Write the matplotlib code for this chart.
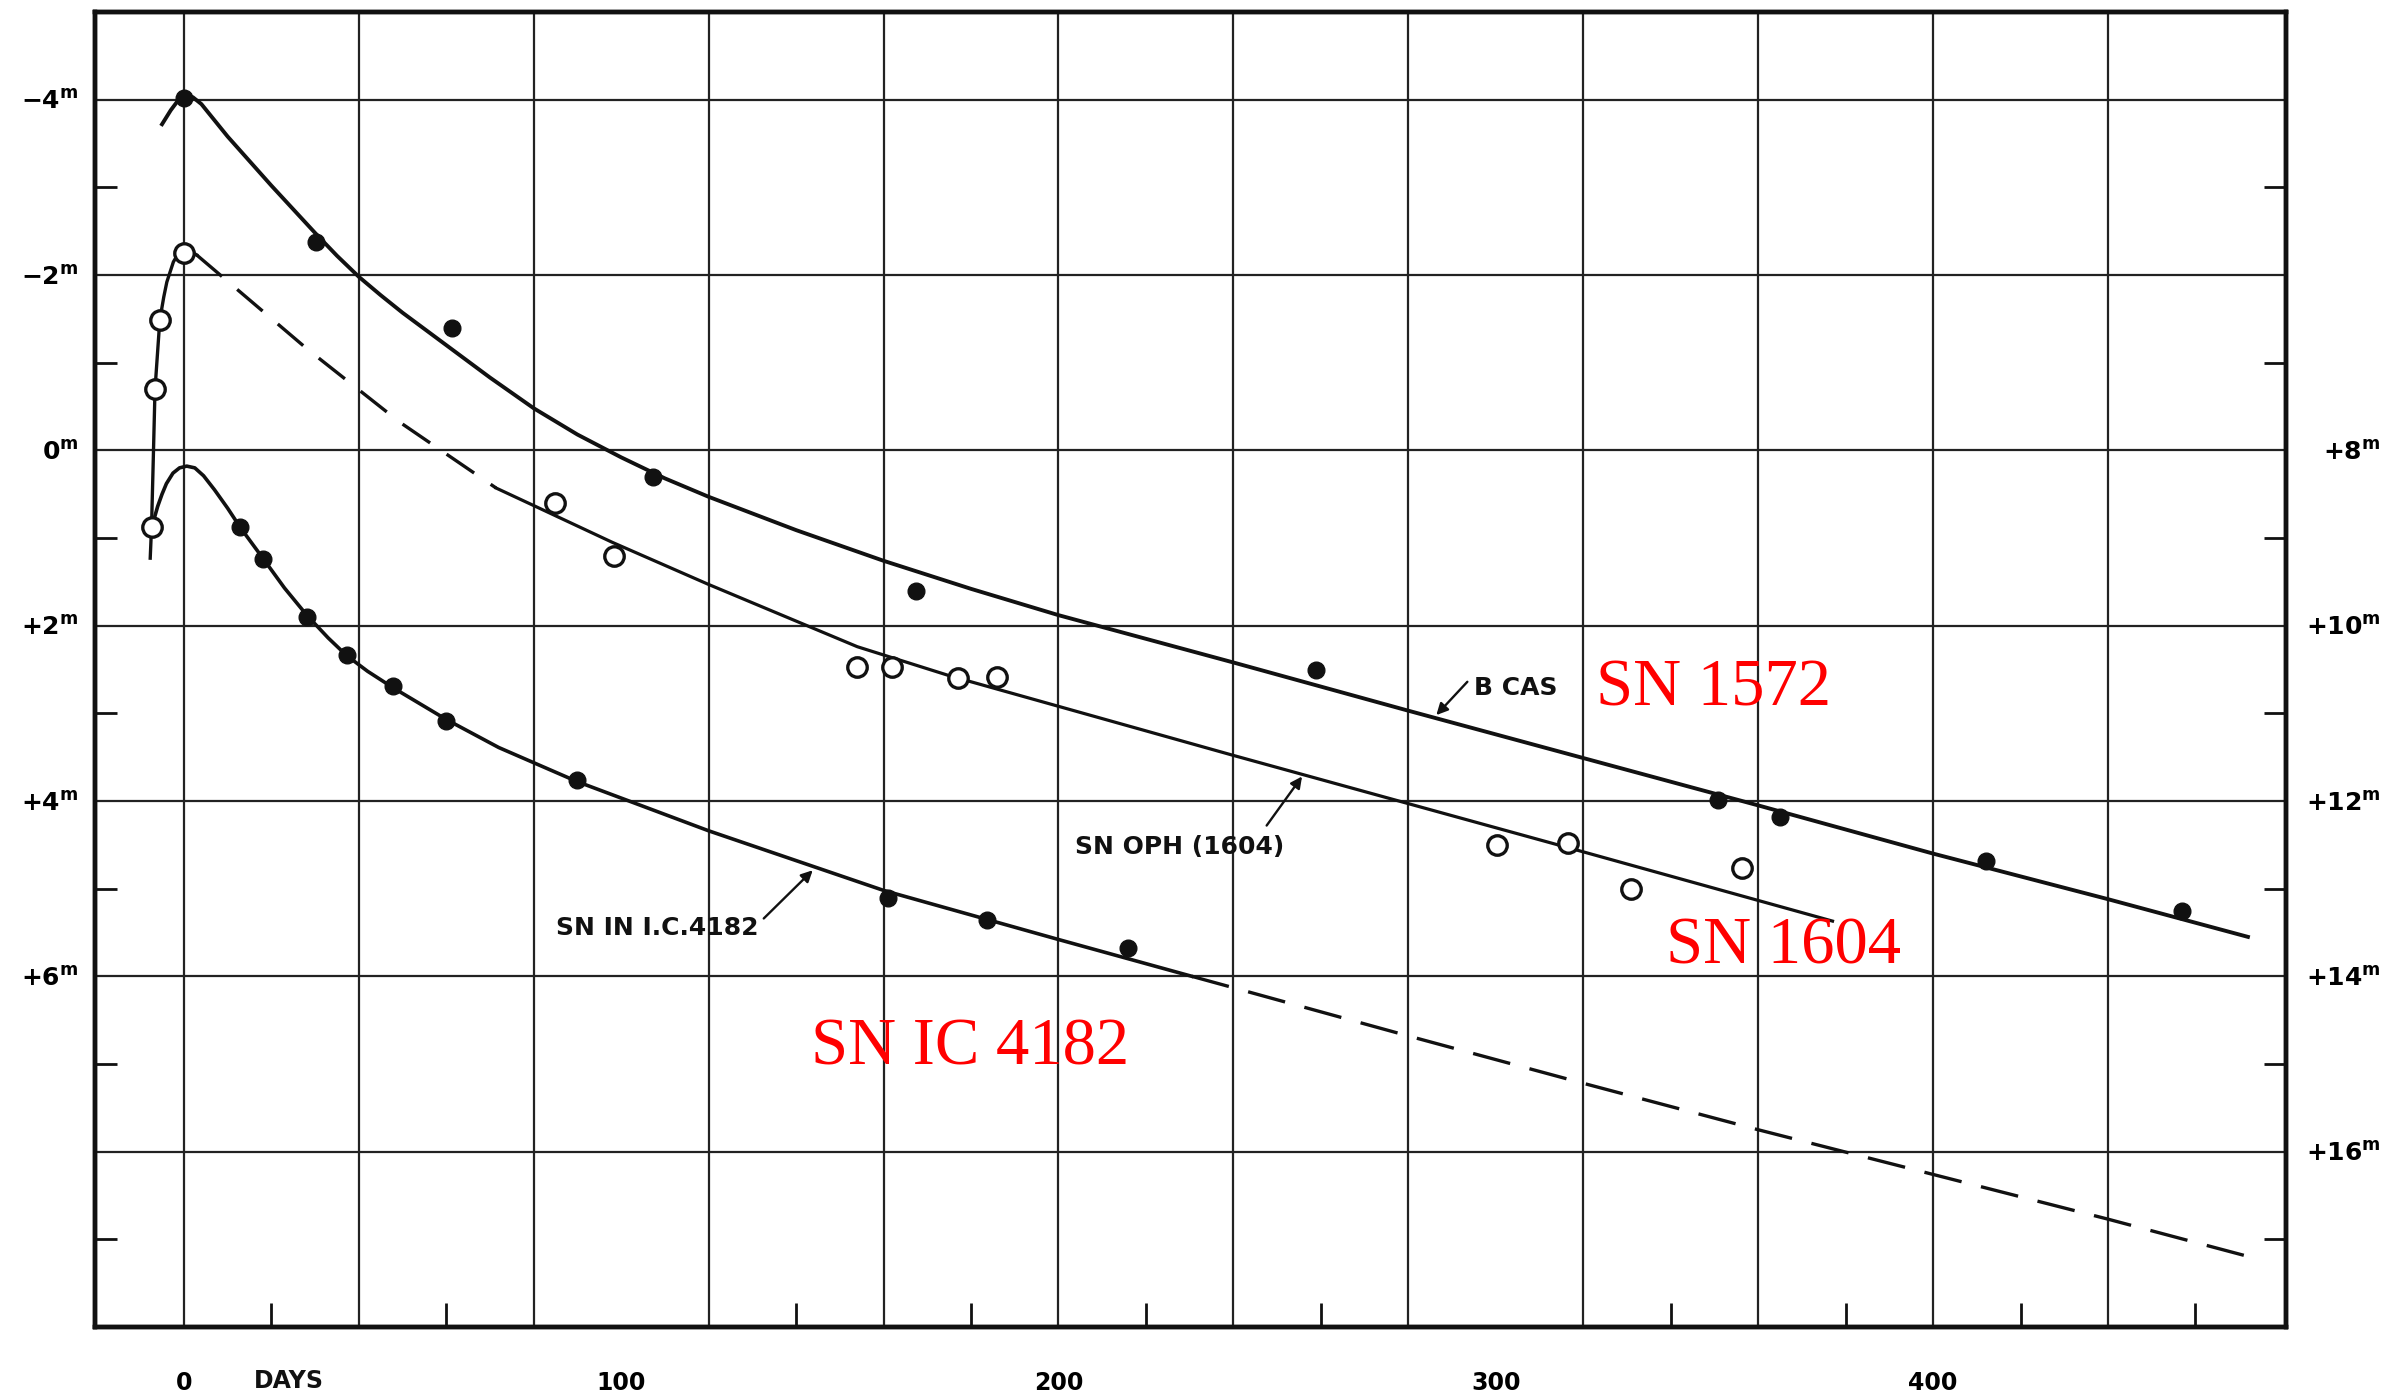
import numpy as np
import matplotlib
matplotlib.use("Agg")
import matplotlib.pyplot as plt

plt.rcParams["font.family"] = "DejaVu Sans"
plt.rcParams["font.weight"] = "bold"
plt.rcParams["mathtext.fontset"] = "dejavusans"
plt.rcParams["mathtext.default"] = "bf"

# --- SN 1572 (B Cas): observations (filled dots) and drawn light curve
b_cas_days = [0, 30.1, 61.3, 107.2, 167.4, 258.8, 350.8, 365, 412, 457]
b_cas_mag = [-4.02, -2.38, -1.39, 0.30, 1.60, 2.51, 3.99, 4.18, 4.68, 5.26]
b_cas_curve_days = [-5, -3, -1.5, 0, 2, 4, 10, 20, 30, 35, 40, 45, 50, 60, 70, 80,
                    90, 100, 110, 120, 140, 160, 180, 200, 240, 280, 320, 360,
                    400, 440, 472]
b_cas_curve_mag = [-3.72, -3.88, -3.98, -4.03, -4.03, -3.95, -3.58, -3.02, -2.48,
                   -2.22, -1.98, -1.77, -1.57, -1.2, -0.83, -0.48, -0.18, 0.08,
                   0.32, 0.53, 0.91, 1.26, 1.58, 1.88, 2.42, 2.97, 3.51, 4.05,
                   4.6, 5.12, 5.55]

# --- SN Oph (1604): observations (open circles) and drawn light curve
oph_days = [-7.4, -6.6, -5.5, 0, 84.9, 98.3, 154, 162, 177, 186,
            300.3, 316.5, 331, 356.4]
oph_mag = [0.88, -0.70, -1.49, -2.25, 0.60, 1.21, 2.47, 2.47, 2.60, 2.59,
           4.50, 4.48, 5.0, 4.77]
oph_rise_days = [-7.7, -7.4, -7.0, -6.6, -5.5, -4.6, -3.9, -2.4, -1.2, -0.3, 1.2, 2.9]
oph_rise_mag = [1.23, 0.88, 0.1, -0.70, -1.49, -1.75, -1.92, -2.15, -2.25, -2.29,
                -2.28, -2.23]
oph_dash_days = [2.9, 28.1, 49.4, 71.4]
oph_dash_mag = [-2.23, -1.16, -0.32, 0.43]
oph_tail_days = [71.4, 80, 98, 120, 154, 175, 200, 240, 280, 320, 377]
oph_tail_mag = [0.43, 0.63, 1.05, 1.53, 2.24, 2.57, 2.92, 3.48, 4.03, 4.58, 5.37]

# --- SN in I.C. 4182: observations (filled dots) and drawn light curve
ic_days = [12.9, 18.2, 28.1, 37.2, 47.9, 60, 90, 161, 183.6, 216]
ic_mag = [0.88, 1.24, 1.90, 2.33, 2.69, 3.09, 3.76, 5.11, 5.36, 5.68]
ic_curve_days = [-7.3, -6.8, -6.0, -5.0, -4.0, -2.5, -1.0, 0.65, 2.5, 4.5, 7.0,
                 10, 12.9, 18.2, 23, 28.1, 33, 37.2, 42, 47.9, 60, 72, 90, 120,
                 160, 200, 230.5]
ic_curve_mag = [0.9, 0.78, 0.64, 0.5, 0.38, 0.26, 0.2, 0.18, 0.2, 0.29, 0.45,
                0.66, 0.88, 1.24, 1.57, 1.88, 2.14, 2.34, 2.52, 2.71, 3.07,
                3.39, 3.78, 4.34, 5.02, 5.58, 6.0]
ic_dash_days = [230.5, 240, 280, 320, 360, 400, 440, 475.4]
ic_dash_mag = [6.0, 6.13, 6.68, 7.22, 7.75, 8.26, 8.77, 9.24]

# --- axes furniture
grid_days = list(range(0, 441, 40))
minor_days = list(range(20, 461, 40))
grid_mags = [-4, -2, 0, 2, 4, 6, 8]
left_tick_mags = [-4, -2, 0, 2, 4, 6]
left_tick_text = ["-4", "-2", "0", "+2", "+4", "+6"]
right_tick_mags = [8, 10, 12, 14, 16]
right_tick_text = ["+8", "+10", "+12", "+14", "+16"]
day_ticks = [0, 100, 200, 300, 400]

ink = "#111111"
fig = plt.figure(figsize=(24.02, 13.98), dpi=100)
ax = fig.add_axes([0.0396, 0.0508, 0.9121, 0.9406])

for d in grid_days:
    ax.axvline(d, color="#222222", lw=1.6, zorder=1)
for m in grid_mags:
    ax.axhline(m, color="#222222", lw=1.6, zorder=1)

# light curves
ax.plot(b_cas_curve_days, b_cas_curve_mag, color=ink, lw=2.8, zorder=3)
ax.plot(oph_rise_days, oph_rise_mag, color=ink, lw=2.4, zorder=3)
ax.plot(oph_dash_days, oph_dash_mag, color=ink, lw=2.4, dashes=(10, 6), zorder=3)
ax.plot(oph_tail_days, oph_tail_mag, color=ink, lw=2.3, zorder=3)
ax.plot(ic_curve_days, ic_curve_mag, color=ink, lw=2.6, zorder=3)
ax.plot(ic_dash_days, ic_dash_mag, color=ink, lw=2.4, dashes=(11.5, 6), zorder=3)

# observations
ax.plot(b_cas_days, b_cas_mag, "o", color=ink, ms=12, zorder=4)
ax.plot(ic_days, ic_mag, "o", color=ink, ms=12, zorder=4)
ax.plot(oph_days, oph_mag, "o", mfc="white", mec=ink, mew=2.4, ms=14, zorder=4)

# black labels with arrows
lab = dict(fontsize=18, fontweight="bold", color=ink, ha="center", va="center")
arr = dict(arrowstyle="-|>", lw=1.7, color=ink, mutation_scale=17, shrinkA=0, shrinkB=0)
ax.text(304.5, 2.71, "B CAS", **lab)
ax.annotate("", xy=(286.4, 3.02), xytext=(293.5, 2.64), arrowprops=arr)
ax.text(227.7, 4.52, "SN OPH (1604)", **lab)
ax.annotate("", xy=(255.7, 3.72), xytext=(247.6, 4.28), arrowprops=arr)
ax.text(108.2, 5.45, "SN IN I.C.4182", **lab)
ax.annotate("", xy=(143.8, 4.79), xytext=(132.6, 5.34), arrowprops=arr)

# red labels
red = dict(fontsize=48, color="red", family="Liberation Serif", fontweight="normal",
           ha="center", va="center")
ax.text(349.8, 2.72, "SN 1572", **red)
ax.text(365.9, 5.67, "SN 1604", **red)
ax.text(179.7, 6.82, "SN IC 4182", **red)

ax.set_xlim(-20.3, 480.7)
ax.set_ylim(10, -5)

ax.set_xticks(day_ticks)
ax.set_xticklabels([str(d) for d in day_ticks])
ax.set_xticks(minor_days, minor=True)
ax.text(24, -0.041, "DAYS", transform=ax.get_xaxis_transform(), fontsize=17,
        fontweight="bold", color=ink, ha="center", va="center")

ax.set_yticks(left_tick_mags)
ax.set_yticklabels([f"${s}^{{m}}$" for s in left_tick_text])
ax.set_yticks([-3, -1, 1, 3, 5, 7, 9], minor=True)

ax.tick_params(axis="x", which="major", length=0, pad=32, labelsize=17)
ax.tick_params(axis="y", which="major", length=0, pad=12, labelsize=18)
ax.tick_params(which="minor", direction="in", length=17, width=2, color=ink)
ax.tick_params(axis="y", which="minor", length=16)

ax2 = ax.twinx()
ax2.set_ylim(18, 3)
ax2.set_yticks(right_tick_mags)
ax2.set_yticklabels([f"${s}^{{m}}$" for s in right_tick_text], ha="right")
ax2.set_yticks([5, 7, 9, 11, 13, 15, 17], minor=True)
ax2.tick_params(axis="y", which="major", length=0, pad=68, labelsize=18)
ax2.tick_params(axis="y", which="minor", direction="in", length=16, width=2, color=ink)

for a in (ax, ax2):
    for sp in a.spines.values():
        sp.set_linewidth(3.2)
        sp.set_color(ink)

fig.savefig("out.png", dpi=100, facecolor="white")
